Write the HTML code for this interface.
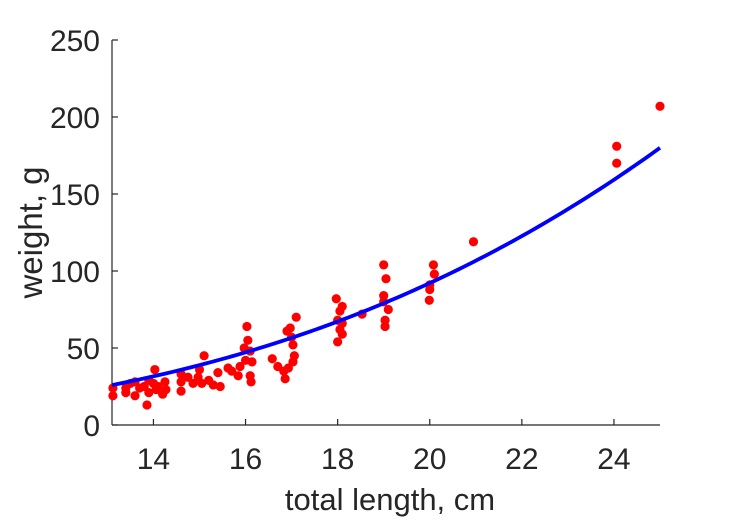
<!DOCTYPE html>
<html><head><meta charset="utf-8"><style>
html,body{margin:0;padding:0;background:#fff;}
svg{display:block;font-family:"Liberation Sans",Arial,sans-serif;}
</style></head><body>
<svg id="chart" width="729" height="521"></svg>
<script>
const xTicks=[14,16,18,20,22,24];
const yTicks=[0,50,100,150,200,250];
const lengths=[13.12,13.12,13.4,13.4,13.5,13.6,13.6,13.7,13.8,13.86,13.9,13.9,14.03,14.0,14.06,14.1,14.2,14.25,14.27,
14.6,14.6,14.6,14.75,14.86,14.97,15.0,15.1,15.05,15.2,15.3,15.4,15.45,
15.62,15.7,15.84,15.88,15.97,16.0,16.03,16.05,16.1,16.1,16.12,16.14,
16.58,16.7,16.83,16.86,16.93,16.9,16.97,17.0,17.03,17.06,17.03,17.1,
17.97,18.05,18.0,18.1,18.05,18.0,18.1,18.1,18.53,
19.0,19.05,19.0,19.0,19.1,19.03,19.03,20.08,20.1,20.0,20.0,19.99,20.95,24.06,24.06,25.0];
const weights=[24,19,21,24,27,28,19,24,25,13,29,21,36,27,23,25,20,28,23,
33,22,28,31,27,31,36,45,27,29,26,34,25,
37,35,32,38,50,42,64,55,48,32,28,41,
43,38,35,30,37,61,63,57,52,45,41,70,
82,74,68,77,62,54,59,66,72,
104,95,84,80,75,68,64,104,98,88,91,81,119,181,170,207];
const fitA=[0.01152];
const fitB=[3.0];
const X0=13.1,X1=25,Y0=0,Y1=250;
const L=112,R=660,T=40,B=425;
const sx=v=>L+(v-X0)/(X1-X0)*(R-L);
const sy=v=>B-(v-Y0)/(Y1-Y0)*(B-T);
const svg=document.getElementById('chart');
const NS='http://www.w3.org/2000/svg';
function mk(t,a,p){const e=document.createElementNS(NS,t);for(const k in a)e.setAttribute(k,a[k]);(p||svg).appendChild(e);return e;}
const ax=mk('g',{});


const xl=mk('line',{x1:L,y1:B,x2:R,y2:B,stroke:'#262626','stroke-width':1.2},ax);


const yl=mk('line',{x1:L,y1:B,x2:L,y2:T,stroke:'#262626','stroke-width':1.2},ax);


xTicks.forEach(v=>{
 const t=mk('line',{x1:sx(v),y1:B,x2:sx(v),y2:B-6,stroke:'#262626','stroke-width':1.2},ax);
 
 
 const s=mk('text',{x:sx(v),y:B+44,'text-anchor':'middle','font-size':30,fill:'#262626'},ax);
 s.textContent=v;
 
 
});
yTicks.forEach(v=>{
 const t=mk('line',{x1:L,y1:sy(v),x2:L+6,y2:sy(v),stroke:'#262626','stroke-width':1.2},ax);
 
 
 const s=mk('text',{x:L-12,y:sy(v)+11,'text-anchor':'end','font-size':30,fill:'#262626'},ax);
 s.textContent=v;
 
 
});
const xt=mk('text',{x:(L+R)/2+4,y:510,'text-anchor':'middle','font-size':31,fill:'#262626'});
xt.textContent='total length, cm';


const yt=mk('text',{x:0,y:0,'text-anchor':'middle','font-size':33,fill:'#262626',transform:'translate(42,'+((T+B)/2)+') rotate(-90)'});
yt.textContent='weight, g';


const pg=mk('g',{});


lengths.forEach((x,i)=>{
 const c=mk('circle',{cx:sx(x),cy:sy(weights[i]),r:4.6,fill:'#ff0000'},pg);
 
 
});
let d='';
for(let i=0;i<=100;i++){const x=X0+(X1-X0)*i/100;const y=fitA[0]*Math.pow(x,fitB[0]);d+=(i?'L':'M')+sx(x).toFixed(2)+','+sy(y).toFixed(2);}
const fl=mk('path',{d:d,fill:'none',stroke:'#0000ff','stroke-width':3.8});


</script>
</body></html>
